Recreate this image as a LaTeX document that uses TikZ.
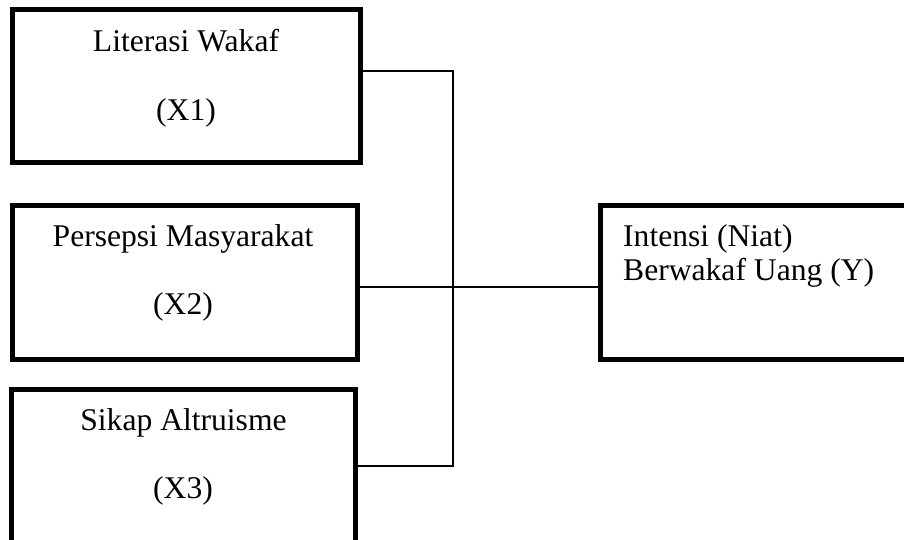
\documentclass[tikz,border=0pt]{standalone}
\usepackage{fontspec}
\setmainfont{Liberation Serif}
\begin{document}
\begin{tikzpicture}[x=1pt,y=-1pt,
  box/.style={draw=black,line width=5pt,inner sep=0pt,outer sep=0pt},
  lbl/.style={anchor=base,inner sep=0pt,font=\fontsize{31.6}{36}\selectfont},
  lbll/.style={anchor=base west,inner sep=0pt,font=\fontsize{31.6}{36}\selectfont},
  conn/.style={draw=black,line width=1.6pt}]
\clip (0,0) rectangle (904,540);
\fill[white] (0,0) rectangle (904,540);
% boxes
\node[box,minimum width=348.5pt,minimum height=153.5pt] (x1) at (186.25,86.25) {};
\node[box,minimum width=345pt,minimum height=154pt] (x2) at (184.5,282.5) {};
\node[box,minimum width=344pt,minimum height=154pt] (x3) at (183.5,466.5) {};
\node[box,minimum width=320pt,minimum height=154pt] (y) at (760.5,282.5) {};
% texts
\node[lbl] (t1a) at (186,51.7) {Literasi Wakaf};
\node[lbl] (t1b) at (186,120.5) {(X1)};
\node[lbl] (t2a) at (183,246.7) {Persepsi Masyarakat};
\node[lbl] (t2b) at (183,314) {(X2)};
\node[lbl] (t3a) at (183.5,430) {Sikap Altruisme};
\node[lbl] (t3b) at (183,498) {(X3)};
\node[lbll] (tya) at (623,246.7) {Intensi (Niat)};
\node[lbll] (tyb) at (623,280) {Berwakaf Uang (Y)};
% connectors
\coordinate (j1) at (453,71);
\coordinate (j2) at (453,287);
\coordinate (j3) at (453,466);
\draw[conn] (x1.east |- j1) -- (j1) -- (j3) -- (x3.east |- j3);
\draw[conn] (x2.east |- j2) -- (j2) -- (y.west |- j2);
\end{tikzpicture}
\end{document}
